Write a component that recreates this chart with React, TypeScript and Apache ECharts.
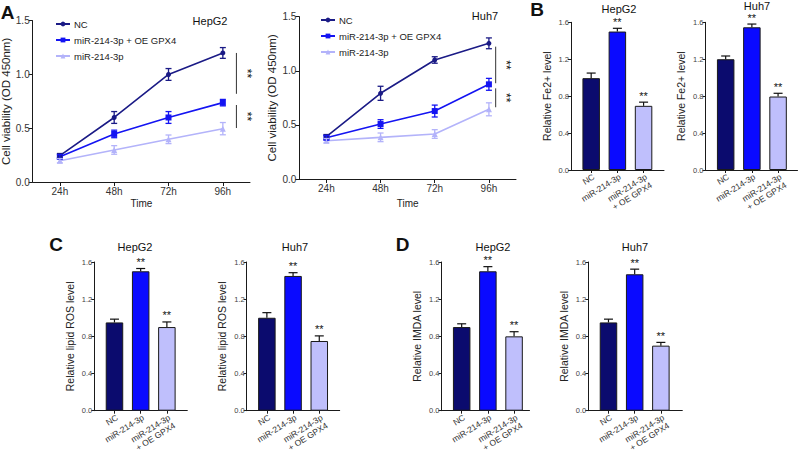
import React, { useEffect, useRef } from 'react';
import * as echarts from 'echarts';

const FONT = '"Liberation Sans", Arial, Helvetica, sans-serif';

// ---------- Panel A: cell viability time course ----------
const timeLabels = ['24h', '48h', '72h', '96h'];
const timePoints = [24, 48, 72, 96];
const lineNames = ['NC', 'miR-214-3p + OE GPX4', 'miR-214-3p'];
const lineColors = ['#1b1b86', '#1414f2', '#b3b3fa'];
const lineSymbols = ['circle', 'rect', 'triangle'];

const hepNC = [0.245, 0.6, 1.0, 1.2];
const hepNCErr = [0.02, 0.055, 0.055, 0.05];
const hepOE = [0.235, 0.447, 0.6, 0.738];
const hepOEErr = [0.02, 0.035, 0.055, 0.03];
const hepMiR = [0.198, 0.298, 0.397, 0.496];
const hepMiRErr = [0.02, 0.04, 0.04, 0.057];

const huhNC = [0.391, 0.792, 1.1, 1.254];
const huhNCErr = [0.02, 0.065, 0.03, 0.05];
const huhOE = [0.382, 0.508, 0.628, 0.875];
const huhOEErr = [0.02, 0.04, 0.055, 0.055];
const huhMiR = [0.354, 0.385, 0.416, 0.644];
const huhMiRErr = [0.02, 0.04, 0.04, 0.06];

// significance brackets [x of line, y from, y to, x of text]
const hepSig = [
  [102, 1.2, 0.82, 106.5],
  [102, 0.716, 0.502, 106.5],
];
const huhSig = [
  [99, 1.223, 0.885, 103.5],
  [99, 0.838, 0.663, 103.5],
];

// ---------- Panels B, C, D: bar charts ----------
const barCategories = ['NC', 'miR-214-3p', 'miR-214-3p\n+ OE GPX4'];
const barColors = ['#0b0b6e', '#0a0aff', '#bfbffc'];
const sigFlags = [false, true, true];

const fe2HepG2 = [0.995, 1.5, 0.695];
const fe2HepG2Err = [0.055, 0.035, 0.04];
const fe2Huh7 = [1.2, 1.546, 0.796];
const fe2Huh7Err = [0.035, 0.035, 0.035];
const rosHepG2 = [0.95, 1.5, 0.9];
const rosHepG2Err = [0.035, 0.03, 0.055];
const rosHuh7 = [1.0, 1.45, 0.75];
const rosHuh7Err = [0.055, 0.035, 0.055];
const mdaHepG2 = [0.9, 1.5, 0.8];
const mdaHepG2Err = [0.035, 0.05, 0.05];
const mdaHuh7 = [0.95, 1.468, 0.7];
const mdaHuh7Err = [0.035, 0.055, 0.035];

const BAR_UNIT_PX = 26.2;
const BAR_MIN = 0.23;

function lineErrRender(color: string) {
  return (params: any, api: any) => {
    const x = api.value(0);
    const m = api.value(1);
    const e = api.value(2);
    const t = api.coord([x, m + e]);
    const b = api.coord([x, m - e]);
    const st = { stroke: color, lineWidth: 1.3 };
    return {
      type: 'group',
      children: [
        { type: 'line', shape: { x1: t[0], y1: t[1], x2: b[0], y2: b[1] }, style: st },
        { type: 'line', shape: { x1: t[0] - 3, y1: t[1], x2: t[0] + 3, y2: t[1] }, style: st },
        { type: 'line', shape: { x1: b[0] - 3, y1: b[1], x2: b[0] + 3, y2: b[1] }, style: st },
      ],
    };
  };
}

function sigRender(params: any, api: any) {
  const x = api.value(0);
  const y1 = api.value(1);
  const y2 = api.value(2);
  const xt = api.value(3);
  const p1 = api.coord([x, y1]);
  const p2 = api.coord([x, y2]);
  const pt = api.coord([xt, (y1 + y2) / 2]);
  return {
    type: 'group',
    children: [
      { type: 'line', shape: { x1: p1[0], y1: p1[1], x2: p2[0], y2: p2[1] }, style: { stroke: '#333', lineWidth: 1 } },
      {
        type: 'text',
        x: pt[0],
        y: pt[1],
        rotation: -Math.PI / 2,
        style: { text: '**', fontSize: 12, fontFamily: FONT, fill: '#111', align: 'center', verticalAlign: 'middle' },
      },
    ],
  };
}

function barErrRender(params: any, api: any) {
  const x = api.value(0);
  const m = api.value(1);
  const e = api.value(2);
  const s = api.value(3);
  const t = api.coord([x, m + e]);
  const b = api.coord([x, m]);
  const st = { stroke: '#111', lineWidth: 1.2 };
  const children: any[] = [
    { type: 'line', shape: { x1: t[0], y1: t[1], x2: b[0], y2: b[1] }, style: st },
    { type: 'line', shape: { x1: t[0] - 4.5, y1: t[1], x2: t[0] + 4.5, y2: t[1] }, style: st },
  ];
  if (s) {
    children.push({
      type: 'text',
      x: t[0],
      y: t[1] - 1,
      style: { text: '**', fontSize: 11, fontFamily: FONT, fill: '#111', align: 'center', verticalAlign: 'bottom' },
    });
  }
  return { type: 'group', children };
}

type BarPanel = {
  left: number;
  top: number;
  width: number;
  height: number;
  values: number[];
  errs: number[];
  yName: string;
};

const barPanels: BarPanel[] = [
  { left: 571, top: 22.3, width: 93, height: 147.7, values: fe2HepG2, errs: fe2HepG2Err, yName: 'Relative Fe2+ level' },
  { left: 705.5, top: 22.3, width: 92, height: 147.7, values: fe2Huh7, errs: fe2Huh7Err, yName: 'Relative Fe2+ level' },
  { left: 94.3, top: 262, width: 93, height: 148.7, values: rosHepG2, errs: rosHepG2Err, yName: 'Relative lipid ROS level' },
  { left: 246.7, top: 262, width: 93, height: 148.7, values: rosHuh7, errs: rosHuh7Err, yName: 'Relative lipid ROS level' },
  { left: 441.5, top: 262, width: 88, height: 148.7, values: mdaHepG2, errs: mdaHepG2Err, yName: 'Relative IMDA level' },
  { left: 588.3, top: 262, width: 94, height: 148.7, values: mdaHuh7, errs: mdaHuh7Err, yName: 'Relative IMDA level' },
];

function buildOption() {
  const grids: any[] = [
    { left: 32.7, top: 20.7, width: 217.3, height: 161.3 },
    { left: 299.3, top: 16.7, width: 216.7, height: 162.3 },
  ];
  const xAxes: any[] = [];
  const yAxes: any[] = [];
  const series: any[] = [];

  const axisLineStyle = { color: '#1a1a1a', width: 1 };

  // Line panels
  const lineData = [
    { nc: hepNC, ncE: hepNCErr, oe: hepOE, oeE: hepOEErr, mi: hepMiR, miE: hepMiRErr, sig: hepSig, nameGapX: 16, nameGapY: 19 },
    { nc: huhNC, ncE: huhNCErr, oe: huhOE, oeE: huhOEErr, mi: huhMiR, miE: huhMiRErr, sig: huhSig, nameGapX: 19, nameGapY: 21 },
  ];
  lineData.forEach((d, gi) => {
    xAxes.push({
      gridIndex: gi,
      type: 'value',
      min: 12,
      max: 108,
      name: 'Time',
      nameLocation: 'middle',
      nameGap: d.nameGapX,
      nameTextStyle: { fontSize: 10, fontFamily: FONT, color: '#222' },
      axisLine: { show: true, onZero: false, lineStyle: axisLineStyle },
      axisTick: { show: true, length: 4, customValues: timePoints, lineStyle: axisLineStyle },
      axisLabel: {
        customValues: timePoints,
        formatter: (v: number) => timeLabels[timePoints.indexOf(v)] ?? '',
        fontSize: 10,
        fontFamily: FONT,
        color: '#333',
        margin: 4,
      },
      splitLine: { show: false },
    });
    yAxes.push({
      gridIndex: gi,
      type: 'value',
      min: 0,
      max: 1.5,
      interval: 0.5,
      name: 'Cell viability (OD 450nm)',
      nameLocation: 'middle',
      nameGap: d.nameGapY,
      nameTextStyle: { fontSize: 11.5, fontFamily: FONT, color: '#222' },
      axisLine: { show: true, onZero: false, lineStyle: axisLineStyle },
      axisTick: { show: true, length: 4, lineStyle: axisLineStyle },
      axisLabel: { fontSize: 10, fontFamily: FONT, color: '#333', margin: 3, formatter: (v: number) => v.toFixed(1) },
      splitLine: { show: false },
    });
    const groups = [
      [d.nc, d.ncE],
      [d.oe, d.oeE],
      [d.mi, d.miE],
    ];
    groups.forEach((g, si) => {
      const vals = g[0];
      series.push({
        type: 'line',
        name: lineNames[si],
        xAxisIndex: gi,
        yAxisIndex: gi,
        data: timePoints.map((t, i) => [t, vals[i]]),
        symbol: lineSymbols[si],
        symbolSize: si === 0 ? 5 : 6,
        lineStyle: { color: lineColors[si], width: 1.6 },
        itemStyle: { color: lineColors[si] },
        z: 5 - si,
      });
    });
    groups.forEach((g, si) => {
      const vals = g[0];
      const errs = g[1];
      series.push({
        type: 'custom',
        xAxisIndex: gi,
        yAxisIndex: gi,
        silent: true,
        data: timePoints.map((t, i) => [t, vals[i], errs[i]]),
        renderItem: lineErrRender(lineColors[si]),
        z: 6,
      });
    });
    series.push({
      type: 'custom',
      xAxisIndex: gi,
      yAxisIndex: gi,
      silent: true,
      data: d.sig,
      renderItem: sigRender,
      z: 6,
    });
  });

  // Bar panels
  barPanels.forEach((p, k) => {
    const gi = k + 2;
    grids.push({ left: p.left, top: p.top, width: p.width, height: p.height });
    xAxes.push({
      gridIndex: gi,
      type: 'value',
      min: BAR_MIN,
      max: BAR_MIN + p.width / BAR_UNIT_PX,
      axisLine: { show: true, onZero: false, lineStyle: axisLineStyle },
      axisTick: { show: true, length: 3, customValues: [1, 2, 3], lineStyle: axisLineStyle },
      axisLabel: {
        customValues: [1, 2, 3],
        formatter: (v: number) => barCategories[Math.round(v) - 1] ?? '',
        rotate: 32,
        fontSize: 8.5,
        lineHeight: 9.5,
        fontFamily: FONT,
        color: '#333',
        margin: 2,
        verticalAlign: 'top',
      },
      splitLine: { show: false },
    });
    yAxes.push({
      gridIndex: gi,
      type: 'value',
      min: 0,
      max: 1.6,
      interval: 0.4,
      name: p.yName,
      nameLocation: 'middle',
      nameGap: 19,
      nameTextStyle: { fontSize: 10.5, fontFamily: FONT, color: '#222' },
      axisLine: { show: true, onZero: false, lineStyle: axisLineStyle },
      axisTick: { show: true, length: 3, lineStyle: axisLineStyle },
      axisLabel: { fontSize: 7.5, fontFamily: FONT, color: '#444', margin: 2, formatter: (v: number) => v.toFixed(1) },
      splitLine: { show: false },
    });
    series.push({
      type: 'bar',
      xAxisIndex: gi,
      yAxisIndex: gi,
      barWidth: 17.5,
      data: p.values.map((v, i) => ({
        value: [i + 1, v],
        itemStyle: { color: barColors[i], borderColor: '#1a1a1a', borderWidth: 1 },
      })),
      z: 2,
    });
    series.push({
      type: 'custom',
      xAxisIndex: gi,
      yAxisIndex: gi,
      silent: true,
      data: p.values.map((v, i) => [i + 1, v, p.errs[i], sigFlags[i] ? 1 : 0]),
      renderItem: barErrRender,
      z: 5,
    });
  });

  grids.forEach((g) => {
    g.containLabel = false;
    g.outerBoundsMode = 'none';
  });

  const legendCommon = {
    orient: 'vertical',
    data: lineNames,
    itemWidth: 14,
    itemHeight: 6,
    itemGap: 6,
    selectedMode: false,
    textStyle: { fontSize: 9.5, fontFamily: FONT, color: '#222', padding: [0, 0, 0, -1] },
    padding: 0,
  };

  const txt = (text: string, x: number, y: number, fontSize: number, bold = false) => ({
    type: 'text',
    x,
    y,
    style: {
      text,
      fontSize,
      fontWeight: bold ? 'bold' : 'normal',
      fontFamily: FONT,
      fill: '#111',
      align: 'center',
      verticalAlign: 'middle',
    },
  });

  return {
    animation: false,
    backgroundColor: '#ffffff',
    grid: grids,
    xAxis: xAxes,
    yAxis: yAxes,
    legend: [
      { ...legendCommon, left: 55, top: 19 },
      { ...legendCommon, left: 320, top: 15 },
    ],
    series,
    graphic: [
      txt('A', 7.5, 12, 19, true),
      txt('B', 537, 9, 19, true),
      txt('C', 56, 244, 19, true),
      txt('D', 402.5, 244, 19, true),
      txt('HepG2', 210, 21, 11),
      txt('Huh7', 485, 16, 11),
      txt('HepG2', 619, 8.5, 11),
      txt('Huh7', 757, 5.5, 11),
      txt('HepG2', 135, 247, 11),
      txt('Huh7', 295, 247, 11),
      txt('HepG2', 493, 247, 11),
      txt('Huh7', 635, 247, 11),
    ],
  };
}

export default function App() {
  const ref = useRef<HTMLDivElement>(null);
  useEffect(() => {
    if (!ref.current) return;
    const chart = echarts.init(ref.current, null, { renderer: 'svg' });
    chart.setOption(buildOption() as any);
    return () => chart.dispose();
  }, []);
  return (
    <div
      ref={ref}
      style={{ position: 'fixed', left: 0, top: 0, width: 800, height: 456, background: '#fff' }}
    />
  );
}
